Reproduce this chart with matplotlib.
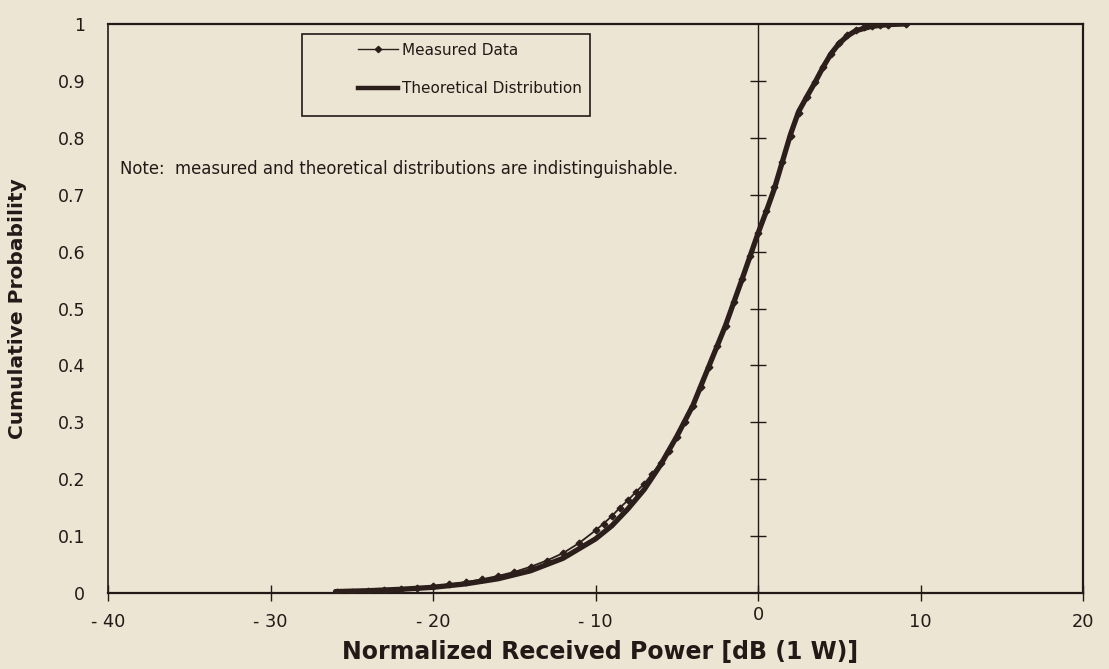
import numpy as np
import matplotlib
matplotlib.use("Agg")
import matplotlib.pyplot as plt
from matplotlib.lines import Line2D
from matplotlib.patches import Rectangle

# Measured received-power CDF samples: power [dB (1 W)] and cumulative probability
measured_db = [-25.9, -25.0, -24.0, -23.0, -22.0, -21.0, -20.0, -19.0, -18.0, -17.0,
               -16.0, -15.0, -14.0, -13.0, -12.0, -11.0, -10.0, -9.5, -9.0, -8.5,
               -8.0, -7.5, -7.0, -6.5, -6.0, -5.5, -5.0, -4.5, -4.0, -3.5,
               -3.0, -2.5, -2.0, -1.5, -1.0, -0.5, 0.0, 0.5, 1.0, 1.5,
               2.0, 2.5, 3.0, 3.5, 4.0, 4.5, 5.0, 5.5, 6.0, 6.5,
               7.0, 7.5, 8.0, 9.1]
measured_cdf = [0.001, 0.002, 0.003, 0.005, 0.007, 0.009, 0.012, 0.015, 0.019, 0.024,
                0.030, 0.037, 0.046, 0.057, 0.070, 0.088, 0.110, 0.122, 0.135, 0.150,
                0.163, 0.178, 0.192, 0.210, 0.228, 0.250, 0.274, 0.300, 0.328, 0.362,
                0.398, 0.434, 0.470, 0.512, 0.552, 0.592, 0.633, 0.672, 0.713, 0.758,
                0.804, 0.844, 0.872, 0.898, 0.925, 0.948, 0.967, 0.980, 0.989, 0.994,
                0.996, 0.998, 0.999, 1.000]

# Theoretical distribution
theory_db = [-26.0, -24.0, -22.0, -20.0, -18.0, -16.0, -14.0, -12.0, -10.0, -9.0,
             -8.0, -7.0, -6.0, -5.0, -4.0, -3.0, -2.0, -1.0, 0.0, 0.5,
             1.0, 1.5, 2.0, 2.5, 3.0, 3.5, 4.0, 4.5, 5.0, 5.5,
             6.0, 7.0, 8.0, 9.0]
theory_cdf = [0.0025, 0.004, 0.0065, 0.010, 0.016, 0.025, 0.039, 0.061, 0.095, 0.118,
              0.148, 0.182, 0.225, 0.275, 0.330, 0.400, 0.470, 0.550, 0.632, 0.670,
              0.710, 0.758, 0.806, 0.846, 0.872, 0.897, 0.924, 0.948, 0.966, 0.979,
              0.988, 0.996, 0.999, 1.000]

x_ticks = [-40, -30, -20, -10, 0, 10, 20]
x_tick_labels = ["- 40", "- 30", "- 20", "- 10", "0", "10", "20"]
y_ticks = [0.0, 0.1, 0.2, 0.3, 0.4, 0.5, 0.6, 0.7, 0.8, 0.9, 1.0]
y_tick_labels = ["0", "0.1", "0.2", "0.3", "0.4", "0.5", "0.6", "0.7", "0.8", "0.9", "1"]

BG = "#ece5d3"
INK = "#231a18"
CURVE = "#2b1e1b"

plt.rcParams["font.family"] = ["DejaVu Sans"]

W, H = 1109, 669
L, R, T, B = 108, 1083, 24, 593
fig = plt.figure(figsize=(W / 100, H / 100), dpi=100, facecolor=BG)
ax = fig.add_axes([L / W, 1 - B / H, (R - L) / W, (B - T) / H])
ax.set_facecolor(BG)

ax.set_xlim(-40, 20)
ax.set_ylim(0, 1)

for name, s in ax.spines.items():
    s.set_color(INK)
    s.set_linewidth(1.2 if name == "left" else 1.6)

# Vertical axis crossing at 0 dB with crossing ticks
ax.axvline(0, color=INK, lw=1.0, zorder=1)
inner = [v for v in y_ticks if 0 < v < 1]
ax.plot(np.zeros(len(inner)), inner, ls="none", marker="_", ms=11.5,
        mew=1.0, color=INK, zorder=1)

ax.plot(theory_db, theory_cdf, color=CURVE, lw=3.8,
        solid_capstyle="round", solid_joinstyle="round", zorder=3)
ax.plot(measured_db, measured_cdf, color=CURVE, lw=1.3,
        marker="D", ms=3.4, zorder=4)

ax.set_xticks(x_ticks)
ax.set_xticklabels(x_tick_labels)
ax.set_yticks(y_ticks)
ax.set_yticklabels(y_tick_labels)
ax.tick_params(axis="x", direction="inout", length=11, width=1.0, color=INK,
               labelsize=12.8, labelcolor=INK, pad=9)
ax.tick_params(axis="y", length=0, labelsize=12.5, labelcolor=INK, pad=16.5)
for lbl in ax.get_xticklabels():
    if lbl.get_text() == "0":
        lbl.set_y(0.012)

ax.set_xlabel("Normalized Received Power [dB (1 W)]", fontsize=17,
              fontweight="bold", color=INK)
ax.xaxis.set_label_coords(0.505, -0.083)
ax.set_ylabel("Cumulative Probability", fontsize=14.5, fontweight="bold",
              color=INK)
ax.yaxis.set_label_coords(-0.083, 0.5)

ax.text(-39.26, 0.746, "Note:  measured and theoretical distributions are indistinguishable.",
        fontsize=11.9, color=INK, va="center", ha="left")

# Legend frame and entries
ax.add_patch(Rectangle((0.199, 0.838), 0.2954, 0.144, transform=ax.transAxes,
                       facecolor=BG, edgecolor=INK, lw=1.2, zorder=5))
handles = [
    Line2D([], [], color=CURVE, lw=1.0, marker="D", ms=3.2),
    Line2D([], [], color=CURVE, lw=3.2),
]
leg = ax.legend(handles, ["Measured Data", "Theoretical Distribution"],
                loc="upper left", bbox_to_anchor=(0.2564, 0.967),
                frameon=False, fontsize=11, handlelength=2.6,
                handletextpad=0.25, labelspacing=1.52, borderpad=0,
                borderaxespad=0, labelcolor=INK)
leg.set_zorder(6)

fig.savefig("out.png", dpi=100, facecolor=BG)
